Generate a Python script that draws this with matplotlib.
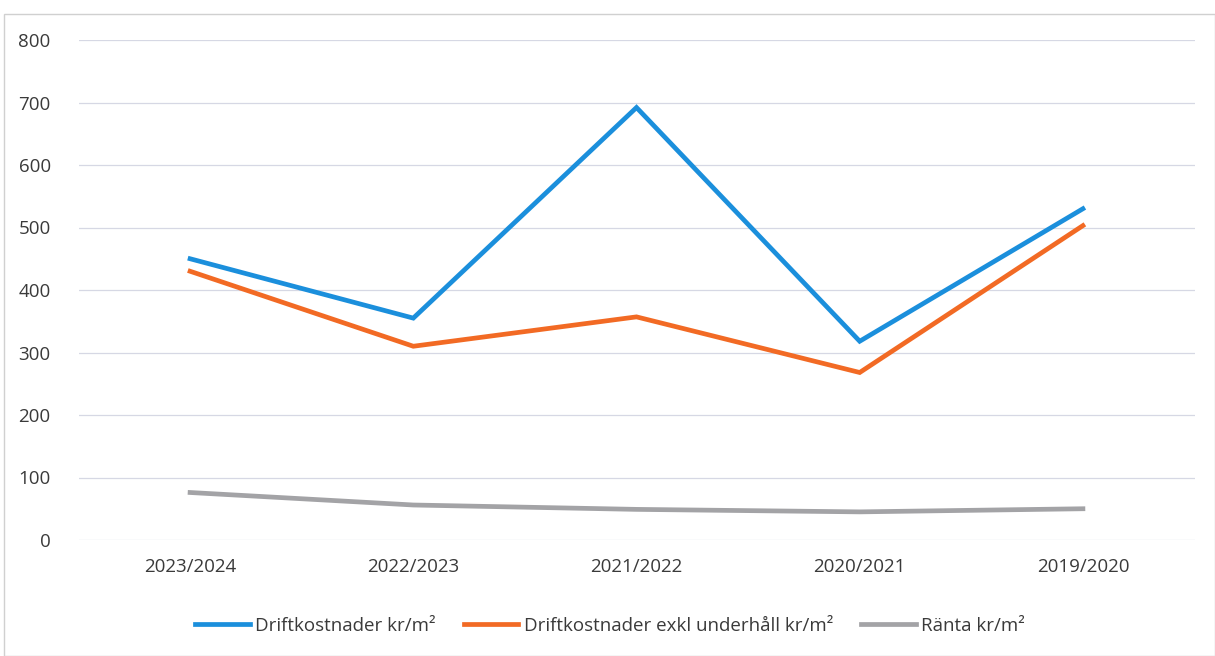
import matplotlib
matplotlib.use("Agg")
import matplotlib.pyplot as plt
from matplotlib.patches import Rectangle

categories = ["2023/2024", "2022/2023", "2021/2022", "2020/2021", "2019/2020"]
drift = [450, 355, 692, 318, 530]
drift_exkl = [430, 310, 357, 268, 503]
ranta = [76, 56, 49, 45, 50]
yticks = [0, 100, 200, 300, 400, 500, 600, 700, 800]

plt.rcParams['font.family'] = ['Open Sans', 'DejaVu Sans']

fig = plt.figure(figsize=(12.15, 6.56), dpi=100)
ax = fig.add_axes([78.5/1215, 1-540/656, 1116/1215, 500/656])

x = list(range(len(categories)))
ax.plot(x, drift, color='#1b8fdc', lw=3.4, solid_joinstyle='miter', label='Driftkostnader kr/m²')
ax.plot(x, drift_exkl, color='#f26a24', lw=3.4, solid_joinstyle='miter', label='Driftkostnader exkl underhåll kr/m²')
ax.plot(x, ranta, color='#a3a3a6', lw=3.4, label='Ränta kr/m²')

ax.set_xlim(-0.5, len(categories) - 0.5)
ax.set_ylim(0, 800)
ax.set_yticks(yticks)
ax.set_yticklabels([str(v) for v in yticks])
ax.set_xticks(x)
ax.set_xticklabels(categories)
ax.grid(axis='y', color='#d6d8e4', lw=0.9)
ax.set_axisbelow(True)
for s in ax.spines.values():
    s.set_visible(False)
ax.tick_params(axis='both', length=0, colors='#3a3a3a', labelsize=13.5)
ax.tick_params(axis='y', pad=20)
ax.tick_params(axis='x', pad=13)

leg = fig.legend(loc='center', bbox_to_anchor=(610/1215, 1-626/656), ncol=3,
                 frameon=False, fontsize=13.5, handlelength=2.9, columnspacing=1.5,
                 handletextpad=0.3)
for t in leg.get_texts():
    t.set_color('#3a3a3a')

fig.patches.append(Rectangle((4/1215, 0), 1-4/1215, 1-14/656, transform=fig.transFigure,
                             fill=False, edgecolor='#d0d0d0', lw=1.0))

fig.savefig('out.png', dpi=100, facecolor='white')
